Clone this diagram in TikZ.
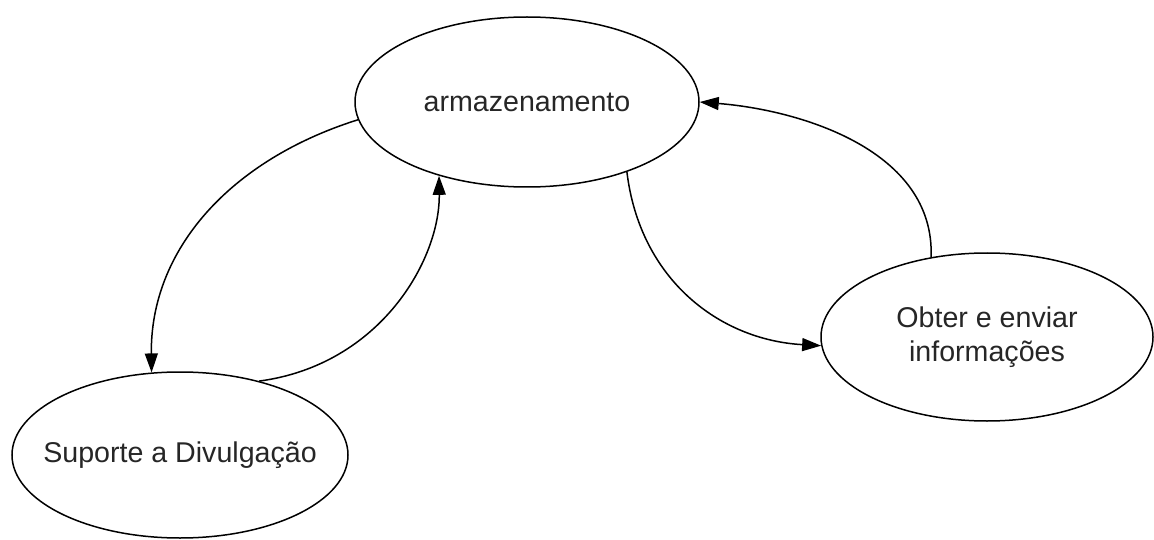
\documentclass[tikz,border=0pt]{standalone}
\usepackage{fontspec}
\setmainfont{Liberation Sans}
\usetikzlibrary{arrows.meta,shapes.geometric}
\begin{document}
\begin{tikzpicture}[x=1pt,y=-1pt,
  bubble/.style={ellipse,draw,line width=1.5pt,inner sep=0pt,
    font=\fontsize{28.6}{35}\selectfont,text=black!85},
  flow/.style={line width=1.5pt,-{Triangle[length=19pt,width=13pt]}}]
  \useasboundingbox (0,0) rectangle (1154,540);
  % the three processes (labels boxed to zero width so the outline keeps its size)
  \node[bubble,minimum width=344pt,minimum height=170pt] (arm) at (527,102)
    {\makebox[0pt]{armazenamento}};
  \node[bubble,minimum width=336pt,minimum height=166pt] (sup) at (180,455)
    {\makebox[0pt]{Suporte a Divulgação}};
  \node[bubble,minimum width=332pt,minimum height=168pt] (obt) at (987,337)
    {\makebox[0pt]{\raisebox{-4pt}{\begin{tabular}{@{}c@{}}Obter e enviar\\[-1pt]informações\end{tabular}}}};
  % flows between them
  \draw[flow] (arm.186) .. controls (230,160) and (150,250) .. (sup.109.5);
  \draw[flow] (sup.43) .. controls (380,365) and (440,260) .. (arm.220.8);
  \draw[flow] (arm.325.5) .. controls (640,280) and (720,340) .. (obt.183);
  \draw[flow] (obt.125.8) .. controls (935,150) and (800,110) .. (arm.east);
\end{tikzpicture}
\end{document}
